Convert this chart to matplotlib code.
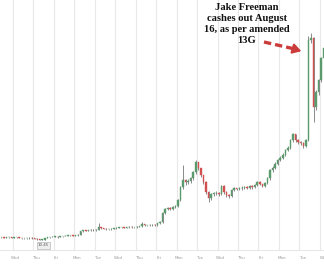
import matplotlib
matplotlib.use("Agg")
import matplotlib.pyplot as plt
import numpy as np

# intraday candles, 8 per session, first open = 10.75
closes = [10.75, 10.70, 10.75, 10.75, 10.70, 10.75, 10.75, 10.70,
          10.65, 10.65, 10.65, 10.70, 10.65, 10.60, 10.55,
          10.50, 10.50, 10.65,
          10.75, 10.75, 10.80, 10.80, 10.75, 10.85, 10.85,
          10.90, 10.95, 10.95, 10.90, 10.95, 11.00,
          11.35, 11.45, 11.40, 11.45, 11.50, 11.45,
          11.50, 11.75, 11.65, 11.60,
          11.55, 11.55, 11.60, 11.65, 11.70, 11.75,
          11.75, 11.70, 11.75, 11.80, 11.75, 11.75, 11.80, 11.85,
          12.05, 11.95, 11.95, 11.95, 12.00, 11.95,
          12.15, 12.25, 13.15, 13.55,
          13.65, 13.60, 13.75, 13.85, 14.45,
          15.75, 16.45, 16.25, 16.35, 16.65,
          17.25, 18.25, 17.65, 16.95, 16.25,
          15.25, 14.65, 15.05, 15.15, 15.15,
          15.05, 15.85, 15.25, 14.95, 14.85,
          15.45, 15.65, 15.55, 15.65, 15.65,
          15.75, 15.65, 15.85, 15.75, 15.95,
          16.25, 16.05, 15.85, 16.15, 16.65,
          17.45, 17.65, 18.05, 18.45, 18.65,
          18.95, 19.45, 19.65, 20.45, 21.05,
          20.45, 20.25, 20.15, 19.85, 20.45,
          30.45, 30.65, 23.75, 25.25, 26.45, 28.65, 29.65]
highs = [10.80, 10.80, 10.80, 10.80, 10.80, 10.80, 10.80, 10.80,
         10.70, 10.70, 10.70, 10.75, 10.75, 10.70, 10.65,
         10.60, 10.55, 10.70,
         10.80, 10.80, 10.85, 10.85, 10.85, 10.90, 10.90,
         10.95, 11.00, 11.00, 10.95, 11.00, 11.05,
         11.40, 11.50, 11.50, 11.50, 11.55, 11.55,
         11.55, 12.15, 11.80, 11.70,
         11.65, 11.60, 11.65, 11.70, 11.75, 11.80,
         11.80, 11.80, 11.80, 11.85, 11.85, 11.80, 11.85, 11.90,
         12.25, 12.10, 12.00, 12.05, 12.05, 12.05,
         12.20, 12.35, 13.30, 13.70,
         13.80, 13.75, 13.85, 14.00, 14.60,
         15.90, 17.95, 16.60, 16.60, 16.80,
         17.40, 18.45, 18.30, 17.70, 17.00,
         16.35, 15.40, 15.20, 15.30, 15.35,
         15.25, 16.00, 15.95, 15.35, 15.05,
         15.55, 15.80, 15.70, 15.80, 15.85,
         15.90, 15.85, 16.00, 15.95, 16.10,
         16.40, 16.35, 16.10, 16.30, 16.80,
         17.60, 17.90, 18.25, 18.55, 18.90,
         19.15, 19.60, 19.90, 20.60, 21.20,
         21.10, 20.60, 20.40, 20.25, 20.55,
         30.85, 31.15, 30.75, 25.45, 26.60, 28.80, 29.90]
lows = [10.70, 10.65, 10.70, 10.70, 10.65, 10.70, 10.70, 10.65,
        10.60, 10.60, 10.60, 10.60, 10.60, 10.55, 10.50,
        10.45, 10.45, 10.50,
        10.65, 10.70, 10.75, 10.75, 10.70, 10.75, 10.80,
        10.85, 10.90, 10.90, 10.85, 10.90, 10.90,
        11.00, 11.30, 11.35, 11.35, 11.40, 11.40,
        11.40, 11.45, 11.60, 11.55,
        11.50, 11.50, 11.50, 11.55, 11.60, 11.65,
        11.70, 11.65, 11.65, 11.70, 11.70, 11.70, 11.70, 11.75,
        11.80, 11.90, 11.90, 11.90, 11.90, 11.90,
        11.90, 12.10, 12.20, 13.05,
        13.50, 13.45, 13.50, 13.65, 13.80,
        14.35, 15.60, 16.00, 16.10, 16.20,
        16.50, 17.10, 17.50, 16.80, 16.10,
        15.10, 14.30, 14.50, 14.90, 14.95,
        14.90, 14.95, 15.10, 14.75, 14.70,
        14.80, 15.35, 15.45, 15.45, 15.50,
        15.55, 15.55, 15.55, 15.60, 15.65,
        15.85, 15.95, 15.75, 15.80, 16.05,
        16.50, 17.30, 17.60, 17.95, 18.35,
        18.55, 18.85, 19.35, 19.55, 20.30,
        20.30, 20.10, 19.95, 19.70, 19.75,
        20.35, 30.20, 22.25, 23.50, 25.00, 26.30, 28.50]
first_open = 10.75
days = ["Wed", "Thu", "Fri", "Mon", "Tue", "Wed", "Thu", "Fri",
        "Mon", "Tue", "Wed", "Thu", "Fri", "Mon", "Tue", "We"]
per_day = 8
note = "Jake Freeman\ncashes out August\n16, as per amended\n13G"

opens = [first_open] + closes[:-1]
idx = np.arange(len(closes)) - 5

fig = plt.figure(figsize=(3.24, 2.64), dpi=100)
ax = fig.add_axes([0, 14 / 264, 1, 250 / 264])

green, red = "#5a9a6c", "#d25050"
for x, o, h, l, c in zip(idx, opens, highs, lows, closes):
    col = green if c >= o else red
    ax.vlines(x, l, h, color="#777777", lw=0.6, zorder=2)
    ax.bar(x, max(abs(c - o), 0.04), bottom=min(o, c), width=0.6,
           color=col, edgecolor=col, lw=0.3, zorder=3)

for d in range(len(days)):
    ax.axvline(d * per_day - 0.5, color="#e8e8e8", lw=0.8, zorder=0)
ax.set_xticks([d * per_day + 0.6 for d in range(len(days))])
ax.set_xticklabels(days, fontsize=3, color="#999999")
ax.tick_params(axis="x", length=0, pad=4)
ax.set_yticks([])
ax.set_xlim(-5.5, 121.1)
ax.set_ylim(9.45, 34.45)
for s in ["top", "left", "right"]:
    ax.spines[s].set_visible(False)
ax.spines["bottom"].set_color("#e0e0e0")
ax.spines["bottom"].set_linewidth(0.6)

# low marker
lo = int(np.argmin(lows))
ax.text(idx[lo] + 1.5, lows[lo] - 0.35, f"{lows[lo]:.2f}", fontsize=2.8,
        color="#555555", ha="center", va="top",
        bbox=dict(boxstyle="square,pad=0.3", fc="#eeeeee", ec="#aaaaaa", lw=0.4))

fig.text(247 / 324, 1 - 24 / 264, note, ha="center", va="center",
         family="Liberation Serif", weight="bold", fontsize=7.6,
         linespacing=1.3, color="#111111")

# dashed red arrow
fx = lambda px: px / 324
fy = lambda py: 1 - py / 264
fig.add_artist(plt.Line2D([fx(264), fx(297)], [fy(42), fy(49.5)],
                          color="#cc3b3b", lw=2.4, ls=(0, (2.2, 1.2))))
ax.annotate("", xy=(fx(304), fy(52)), xytext=(fx(295), fy(49.3)),
            xycoords="figure fraction", textcoords="figure fraction",
            arrowprops=dict(arrowstyle="-|>,head_length=0.5,head_width=0.3",
                            color="#cc3b3b", lw=1.5))

fig.savefig("out.png", dpi=100, facecolor="white")
